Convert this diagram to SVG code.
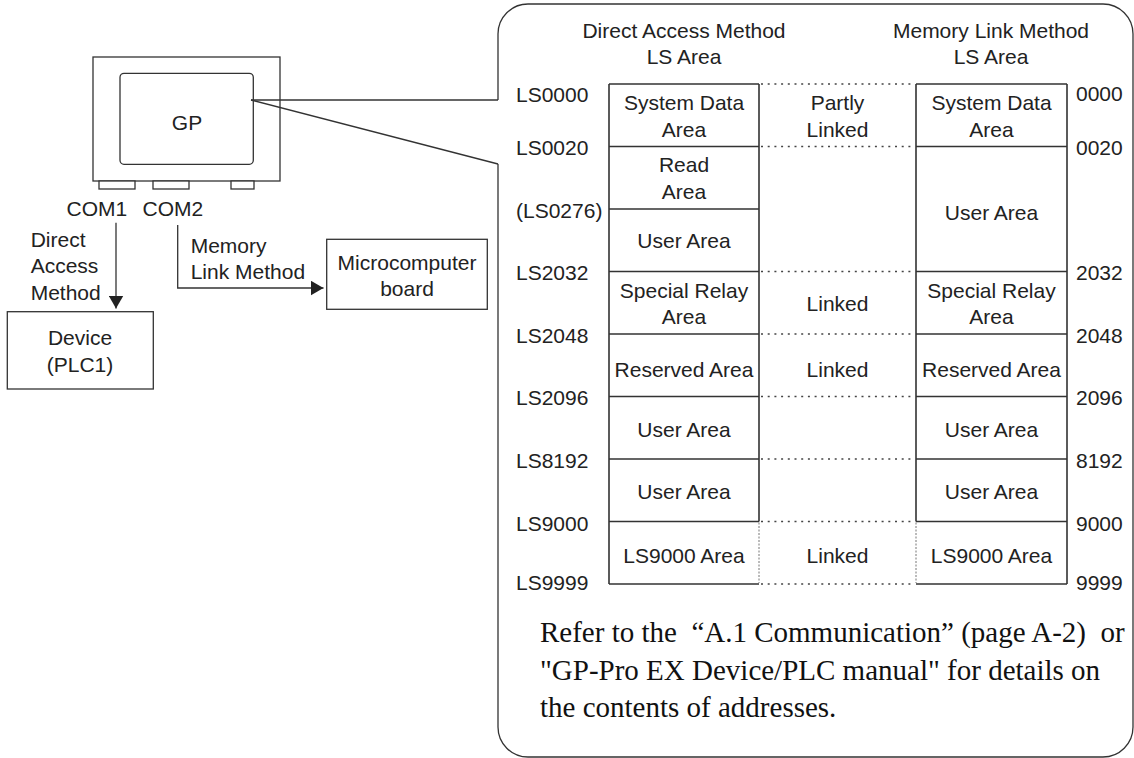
<svg xmlns="http://www.w3.org/2000/svg" width="1134" height="758" viewBox="0 0 1134 758">
<style>
text { font-family: "Liberation Sans", Arial, sans-serif; font-size: 21px; fill: #222; }
.c { text-anchor: middle; }
.serif { font-family: "Liberation Serif", "Times New Roman", serif; font-size: 29px; fill: #111; }
.box { fill: #fff; stroke: #333; stroke-width: 1.3; }
.ln { fill: none; stroke: #333; stroke-width: 1.3; }
.tb { fill: none; stroke: #333; stroke-width: 1.6; }
.dot { fill: none; stroke: #444; stroke-width: 1.4; stroke-dasharray: 2 4.7; }
.vdot { fill: none; stroke: #777; stroke-width: 1; stroke-dasharray: 2 1.5; }
</style>
<defs>
<marker id="arr" viewBox="0 0 13 15" refX="13" refY="7.5" markerWidth="13" markerHeight="15" markerUnits="userSpaceOnUse" orient="auto">
<path d="M0,0 L13,7.5 L0,15 Z" fill="#222"/>
</marker>
</defs>
<rect width="1134" height="758" fill="#fff"/>

<g id="callout">
<path class="ln" d="M498,100 L498,34 A30,30 0 0 1 528,4 L1103,4 A30,30 0 0 1 1133,34 L1133,727 A30,30 0 0 1 1103,757 L528,757 A30,30 0 0 1 498,727 L498,164"/>
<text class="c" x="684" y="38">Direct Access Method</text>
<text class="c" x="684" y="64">LS Area</text>
<text class="c" x="991" y="38">Memory Link Method</text>
<text class="c" x="991" y="64">LS Area</text>
</g>

<g id="gp">
<rect class="box" x="93" y="57" width="187" height="124"/>
<rect class="box" x="120" y="73.3" width="133.3" height="91" rx="4"/>
<text class="c" x="187" y="130">GP</text>
<rect class="box" x="99" y="181" width="36" height="8"/>
<rect class="box" x="153" y="181" width="36" height="8"/>
<rect class="box" x="231" y="181" width="23" height="8"/>
<text x="66.5" y="215.7">COM1</text>
<text x="142.5" y="215.7">COM2</text>
</g>

<g id="device">
<rect class="box" x="7.3" y="311.7" width="146" height="77.3"/>
<text class="c" x="80" y="345">Device</text>
<text class="c" x="80" y="371.7">(PLC1)</text>
</g>

<g id="microcomputer">
<rect class="box" x="326.7" y="239.3" width="160.6" height="70"/>
<text class="c" x="407" y="270">Microcomputer</text>
<text class="c" x="407" y="296">board</text>
</g>

<g id="connectors">
<line class="ln" x1="116" y1="222.7" x2="116" y2="308.5" marker-end="url(#arr)"/>
<path class="ln" d="M177.7,225 V288 H323.5" marker-end="url(#arr)"/>
<line class="ln" x1="251" y1="100" x2="498" y2="100"/>
<line class="ln" x1="251" y1="100" x2="498" y2="164"/>
<text x="30.7" y="247.3">Direct</text>
<text x="30.7" y="273.3">Access</text>
<text x="30.7" y="300">Method</text>
<text x="190.7" y="253.3">Memory</text>
<text x="190.7" y="279.3">Link Method</text>
</g>

<g id="direct-access-column">
<path class="tb" d="M609,84 H759 M609,84 V584 M759,84 V521.5 M609,146.5 H759 M609,209 H759 M609,271.5 H759 M609,334 H759 M609,396.5 H759 M609,459 H759 M609,521.5 H759 M609,584 H759"/>
<line class="vdot" x1="759" y1="522.5" x2="759" y2="583"/>
<text class="c" x="684" y="110">System Data</text>
<text class="c" x="684" y="136.7">Area</text>
<text class="c" x="684" y="171.7">Read</text>
<text class="c" x="684" y="199">Area</text>
<text class="c" x="684" y="248.3">User Area</text>
<text class="c" x="684" y="298.3">Special Relay</text>
<text class="c" x="684" y="324">Area</text>
<text class="c" x="684" y="377.3">Reserved Area</text>
<text class="c" x="684" y="436.7">User Area</text>
<text class="c" x="684" y="499.3">User Area</text>
<text class="c" x="684" y="563.3">LS9000 Area</text>
<text x="516" y="101.7">LS0000</text>
<text x="516" y="155">LS0020</text>
<text x="516" y="218">(LS0276)</text>
<text x="516" y="280">LS2032</text>
<text x="516" y="343">LS2048</text>
<text x="516" y="405">LS2096</text>
<text x="516" y="468">LS8192</text>
<text x="516" y="530.5">LS9000</text>
<text x="516" y="590">LS9999</text>
</g>

<g id="link-column">
<path class="dot" d="M761,84 H914 M761,146.5 H914 M761,271.5 H914 M761,334 H914 M761,396.5 H914 M761,459 H914 M761,521.5 H914 M761,584 H914"/>
<text class="c" x="837.5" y="110">Partly</text>
<text class="c" x="837.5" y="136.7">Linked</text>
<text class="c" x="837.5" y="310.7">Linked</text>
<text class="c" x="837.5" y="377.3">Linked</text>
<text class="c" x="837.5" y="563.3">Linked</text>
</g>

<g id="memory-link-column">
<path class="tb" d="M916,84 H1067 M916,84 V521.5 M1067,84 V584 M916,146.5 H1067 M916,271.5 H1067 M916,334 H1067 M916,396.5 H1067 M916,459 H1067 M916,521.5 H1067 M916,584 H1067"/>
<line class="vdot" x1="916" y1="522.5" x2="916" y2="583"/>
<text class="c" x="991.5" y="110">System Data</text>
<text class="c" x="991.5" y="136.7">Area</text>
<text class="c" x="991.5" y="220">User Area</text>
<text class="c" x="991.5" y="298.3">Special Relay</text>
<text class="c" x="991.5" y="324">Area</text>
<text class="c" x="991.5" y="377.3">Reserved Area</text>
<text class="c" x="991.5" y="436.7">User Area</text>
<text class="c" x="991.5" y="499.3">User Area</text>
<text class="c" x="991.5" y="563.3">LS9000 Area</text>
<text x="1076" y="100.7">0000</text>
<text x="1076" y="155">0020</text>
<text x="1076" y="280">2032</text>
<text x="1076" y="343">2048</text>
<text x="1076" y="405">2096</text>
<text x="1076" y="468">8192</text>
<text x="1076" y="530.5">9000</text>
<text x="1076" y="590">9999</text>
</g>

<g id="note">
<text class="serif" x="540" y="642" xml:space="preserve">Refer to the  “A.1 Communication” (page A-2)  or</text>
<text class="serif" x="540" y="680">"GP-Pro EX Device/PLC manual" for details on</text>
<text class="serif" x="540" y="717">the contents of addresses.</text>
</g>
</svg>
